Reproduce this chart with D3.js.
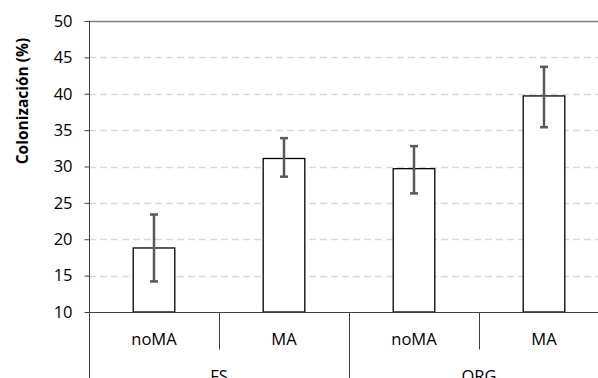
<!DOCTYPE html>
<html>
<head>
<meta charset="utf-8">
<script src="https://cdn.jsdelivr.net/npm/d3@7"></script>
<style>
  body { margin: 0; background: #fff; }
  svg { display: block; font-family: "Open Sans", sans-serif; }
</style>
</head>
<body>
<div id="chart"></div>
<script>
"use strict";
// data
var groups = ["FS", "ORG"];
var treatments = ["noMA", "MA"];
var means = [18.8, 31.1, 29.7, 39.7];
var errLow = [14.2, 28.6, 26.3, 35.4];
var errHigh = [23.4, 33.9, 32.8, 43.7];
var yTicks = [10, 15, 20, 25, 30, 35, 40, 45, 50];
var yTitle = "Colonización (%)";

var W = 598, H = 378;
var m = {left: 89, top: 21, right: -11, bottom: 66};
var fs = 16.5;

var svg = d3.select("#chart").append("svg")
  .attr("width", W).attr("height", H);

var cats = [];
groups.forEach(function(g) {
  treatments.forEach(function(t) { cats.push(g + "|" + t); });
});

var x = d3.scaleBand().domain(cats).range([m.left, W - m.right]);
var xg = d3.scaleBand().domain(groups).range([m.left, W - m.right]);
var y = d3.scaleLinear().domain([10, 50]).range([H - m.bottom, m.top]);

// gridlines
svg.append("g").selectAll("line")
  .data(yTicks.filter(function(d) { return d > 10; }))
  .enter().append("line")
  .attr("x1", m.left).attr("x2", W)
  .attr("y1", function(d) { return Math.round(y(d)) + 0.5; })
  .attr("y2", function(d) { return Math.round(y(d)) + 0.5; })
  .attr("stroke", function(d) { return d === 50 ? "#7f7f7f" : "#d9d9d9"; })
  .attr("stroke-width", function(d) { return d === 50 ? 1.5 : 1.3; })
  .attr("stroke-dasharray", function(d) { return d === 50 ? null : "7,4"; });

// y axis
var yAxis = d3.axisLeft(y).tickValues(yTicks).tickSize(5).tickPadding(12);
var ya = svg.append("g")
  .attr("transform", "translate(" + (m.left + 0.5) + ",0)")
  .call(yAxis);
ya.select(".domain").remove();
ya.selectAll("line").attr("stroke", "#404040");
ya.selectAll("text").attr("font-size", fs).attr("fill", "#000")
  .attr("font-family", "Open Sans, sans-serif");
svg.append("line")
  .attr("x1", m.left + 0.5).attr("x2", m.left + 0.5)
  .attr("y1", m.top).attr("y2", H)
  .attr("stroke", "#404040").attr("stroke-width", 1);

svg.append("text")
  .attr("transform", "translate(28," + 101 + ") rotate(-90)")
  .attr("text-anchor", "middle")
  .attr("font-size", 15.5).attr("font-weight", "bold")
  .text(yTitle);

// bars
var bw = x.step() * 0.32;
svg.append("g").selectAll("rect")
  .data(cats)
  .enter().append("rect")
  .attr("x", function(d) { return x(d) + x.bandwidth() / 2 - bw / 2; })
  .attr("y", function(d, i) { return y(means[i]); })
  .attr("width", bw)
  .attr("height", function(d, i) { return y(10) - y(means[i]); })
  .attr("fill", "#fff")
  .attr("stroke", "#000")
  .attr("stroke-width", 1.3);

// error bars
var eb = svg.append("g").attr("stroke", "#595959").attr("stroke-width", 2.5);
cats.forEach(function(c, i) {
  var cx = x(c) + x.bandwidth() / 2;
  eb.append("line").attr("x1", cx).attr("x2", cx)
    .attr("y1", y(errLow[i])).attr("y2", y(errHigh[i]));
  [errLow[i], errHigh[i]].forEach(function(v) {
    eb.append("line").attr("x1", cx - 4).attr("x2", cx + 4)
      .attr("y1", y(v)).attr("y2", y(v));
  });
});

// x axis baseline
var base = Math.round(y(10)) + 0.5;
svg.append("line")
  .attr("x1", m.left).attr("x2", W)
  .attr("y1", base).attr("y2", base)
  .attr("stroke", "#404040").attr("stroke-width", 1.2);

// category separators
var sep = svg.append("g").attr("stroke", "#404040").attr("stroke-width", 1);
cats.forEach(function(c, i) {
  if (i === 0) return;
  var sx = Math.round(x(c)) + 0.5;
  var boundary = i % treatments.length === 0;
  sep.append("line").attr("x1", sx).attr("x2", sx)
    .attr("y1", base).attr("y2", boundary ? H : base + 37);
});

// treatment labels
svg.append("g").selectAll("text")
  .data(cats)
  .enter().append("text")
  .attr("x", function(d) { return x(d) + x.bandwidth() / 2; })
  .attr("y", base + 32)
  .attr("text-anchor", "middle")
  .attr("font-size", fs)
  .text(function(d) { return d.split("|")[1]; });

// group labels (cut at the bottom edge, as in the source)
svg.append("g").selectAll("text")
  .data(groups)
  .enter().append("text")
  .attr("x", function(d) { return xg(d) + xg.bandwidth() / 2; })
  .attr("y", base + 69)
  .attr("text-anchor", "middle")
  .attr("font-size", fs)
  .text(function(d) { return d; });
</script>
</body>
</html>
